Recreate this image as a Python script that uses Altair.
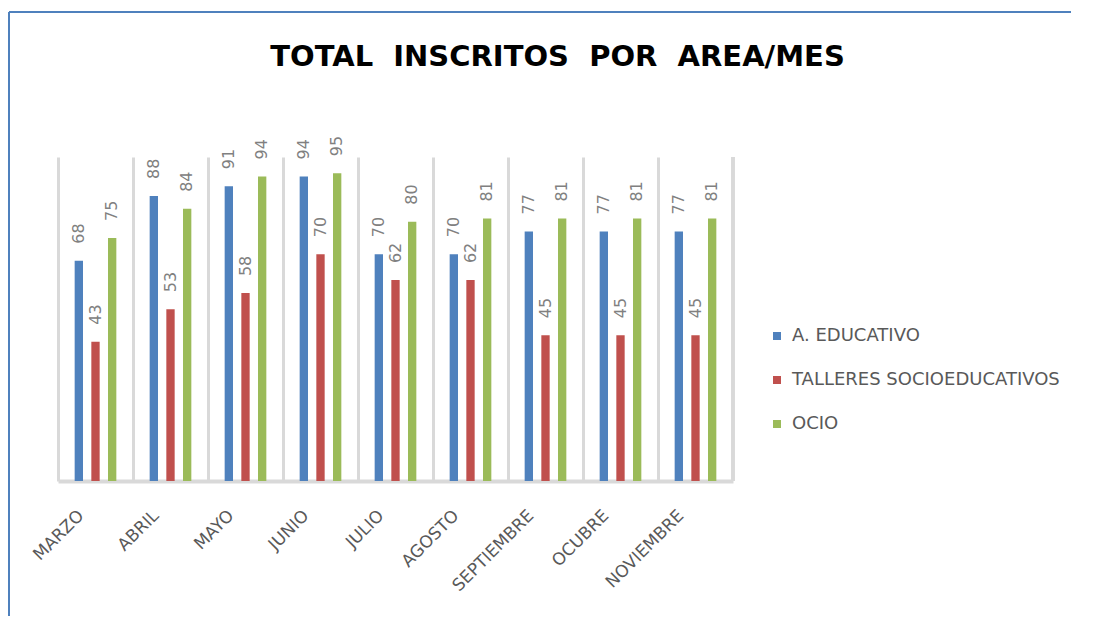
import altair as alt
import pandas as pd

meses = ["MARZO", "ABRIL", "MAYO", "JUNIO", "JULIO", "AGOSTO", "SEPTIEMBRE", "OCUBRE", "NOVIEMBRE"]
series = ["A. EDUCATIVO", "TALLERES SOCIOEDUCATIVOS", "OCIO"]
educativo = [68, 88, 91, 94, 70, 70, 77, 77, 77]
talleres = [43, 53, 58, 70, 62, 62, 45, 45, 45]
ocio = [75, 84, 94, 95, 80, 81, 81, 81, 81]
colores = ["#4F81BD", "#C0504D", "#9BBB59"]

rows = []
for i, m in enumerate(meses):
    for s, vals in zip(series, [educativo, talleres, ocio]):
        rows.append({"mes": m, "serie": s, "valor": vals[i]})
df = pd.DataFrame(rows)

W, H = 675, 324

x_enc = alt.X("mes:N", sort=meses, title=None,
              scale=alt.Scale(paddingInner=0, paddingOuter=0),
              axis=alt.Axis(labelAngle=-45, labelFontSize=17, labelColor="#595959",
                            labelFont="DejaVu Sans", labelPadding=26, labelOffset=-20,
                            ticks=False, grid=True, bandPosition=0,
                            gridColor="#D9D9D9", gridWidth=3,
                            domainColor="#D9D9D9", domainWidth=4))
xo_enc = alt.XOffset("serie:N", sort=series,
                     scale=alt.Scale(paddingInner=0.5, paddingOuter=1))
y_enc = alt.Y("valor:Q", scale=alt.Scale(domain=[0, 100]), axis=None)

bars = alt.Chart(df).mark_bar().encode(
    x=x_enc, xOffset=xo_enc, y=y_enc,
    color=alt.Color("serie:N", sort=series,
                    scale=alt.Scale(domain=series, range=colores),
                    legend=alt.Legend(title=None, orient="none", legendX=710, legendY=170,
                                      symbolType="square", symbolSize=64,
                                      symbolStrokeWidth=0,
                                      labelFontSize=18, labelColor="#595959",
                                      labelFont="DejaVu Sans", labelOffset=6,
                                      rowPadding=26, labelLimit=400)))

labels = alt.Chart(df).mark_text(angle=270, align="left", baseline="middle", dx=17,
                                 fontSize=16, color="#808080", font="DejaVu Sans").encode(
    x=x_enc, xOffset=xo_enc, y=y_enc, text="valor:Q")

right_edge = alt.Chart(df).mark_rule(color="#D9D9D9", strokeWidth=3).encode(
    x=alt.value(W), y=alt.value(0), y2=alt.value(H))

border_top = alt.Chart(df).mark_rule(color="#4F81BD", strokeWidth=2).encode(
    x=alt.value(-49), x2=alt.value(1040), y=alt.value(-145))
border_left = alt.Chart(df).mark_rule(color="#4F81BD", strokeWidth=2).encode(
    x=alt.value(-49), y=alt.value(-145), y2=alt.value(470))

chart = alt.layer(right_edge, bars, labels, border_top, border_left).properties(
    width=W, height=H,
    title=alt.TitleParams("TOTAL\u00a0 INSCRITOS\u00a0 POR\u00a0 AREA/MES", fontSize=29,
                          font="DejaVu Sans", fontWeight="bold", color="#000000",
                          anchor="middle", dx=162, offset=0, dy=61),
    autosize=alt.AutoSizeParams(type="none"),
    padding={"left": 50, "top": 149, "right": 338, "bottom": 135},
).configure_view(stroke=None)

chart.save("out.html", embed_options={"renderer": "svg", "actions": False})
